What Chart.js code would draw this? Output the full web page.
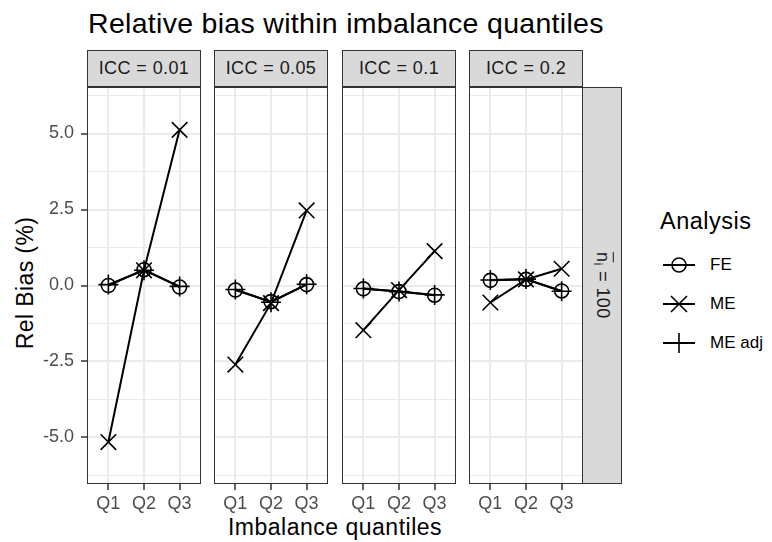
<!DOCTYPE html>
<html>
<head>
<meta charset="utf-8">
<title>Relative bias within imbalance quantiles</title>
<script src="https://cdn.jsdelivr.net/npm/chart.js@4.4.1/dist/chart.umd.min.js"></script>
<style>
  body { margin: 0; background: #fff; font-family: "Liberation Sans", Arial, sans-serif; }
  #plot { position: relative; width: 772px; height: 542px; overflow: hidden; background: #fff; }
  .txt { position: absolute; white-space: nowrap; line-height: 1; }
  #plot canvas { position: absolute; }
  .panel-border { position: absolute; border: 1px solid #333; box-sizing: border-box; pointer-events: none; }
  .strip { position: absolute; background: #d9d9d9; border: 1px solid #333; box-sizing: border-box;
           display: flex; align-items: center; justify-content: center; font-size: 18px; letter-spacing: 0.4px; color: #1a1a1a; }
  .strip-y { writing-mode: vertical-rl; }
  .legend-row { position: absolute; left: 661px; height: 36px; display: flex; align-items: center; }
  .legend-row span { font-size: 17px; color: #000; margin-left: 13px; }
</style>
</head>
<body>
<div id="plot">
  <div class="txt" style="left:88px; top:9px; font-size:28.5px; letter-spacing:0.3px; color:#000;">Relative bias within imbalance quantiles</div>
  <div class="txt" style="left:335px; top:516px; font-size:23px; letter-spacing:0.5px; color:#000; transform:translateX(-50%);">Imbalance quantiles</div>
  <div class="txt" style="left:25px; top:283px; font-size:23px; letter-spacing:0.4px; color:#000; transform:translate(-50%,-50%) rotate(-90deg);">Rel Bias (%)</div>

  <div class="txt" style="left:660px; top:210px; font-size:23.5px; letter-spacing:0.5px; color:#000;">Analysis</div>
  <div class="legend-row" style="top:247px;">
    <svg width="36" height="36"><line x1="2" y1="18" x2="34" y2="18" stroke="#000" stroke-width="2"/><circle cx="18" cy="18" r="7" fill="none" stroke="#000" stroke-width="1.6"/></svg>
    <span>FE</span>
  </div>
  <div class="legend-row" style="top:286px;">
    <svg width="36" height="36"><line x1="2" y1="18" x2="34" y2="18" stroke="#000" stroke-width="2"/><path d="M10 10 L26 26 M10 26 L26 10" stroke="#000" stroke-width="1.6"/></svg>
    <span>ME</span>
  </div>
  <div class="legend-row" style="top:325px;">
    <svg width="36" height="36"><line x1="2" y1="18" x2="34" y2="18" stroke="#000" stroke-width="2"/><path d="M18 8 L18 28 M8 18 L28 18" stroke="#000" stroke-width="1.6"/></svg>
    <span>ME adj</span>
  </div>
</div>

<script>
// quantile groups and facet labels
const quantiles = ['Q1', 'Q2', 'Q3'];
const iccLabels = ['ICC = 0.01', 'ICC = 0.05', 'ICC = 0.1', 'ICC = 0.2'];

// relative bias (%) per ICC facet, Q1..Q3
const feBias = [
  [0.00, 0.52, -0.05],
  [-0.15, -0.53, 0.03],
  [-0.11, -0.20, -0.32],
  [0.17, 0.20, -0.18]
];
const meBias = [
  [-5.15, 0.50, 5.12],
  [-2.60, -0.58, 2.47],
  [-1.47, -0.15, 1.13],
  [-0.56, 0.20, 0.55]
];
const meAdjBias = [
  [0.03, 0.50, -0.03],
  [-0.13, -0.55, 0.04],
  [-0.10, -0.20, -0.31],
  [0.18, 0.21, -0.19]
];

// y axis breaks
const yMajor = [-5, -2.5, 0, 2.5, 5];
const yMinor = [-6.25, -3.75, -1.25, 1.25, 3.75, 6.25];
const yLimits = [-6.53, 6.53];

const PANEL_TOP = 87, PANEL_W = 114, PANEL_H = 397;
const panelLefts = [87, 214, 342, 469];
const Y_AXIS_W = 87, X_AXIS_H = 40;
const FONT = '"Liberation Sans", Arial, sans-serif';

const plot = document.getElementById('plot');
const isMajor = v => yMajor.includes(v);
const toPoints = vals => vals.map((v, k) => ({ x: k + 1, y: v }));

function noPadding(scale) {
  scale.paddingLeft = 0; scale.paddingRight = 0;
  scale.paddingTop = 0; scale.paddingBottom = 0;
}

function addDiv(cls, left, top, width, height, html) {
  const d = document.createElement('div');
  d.className = cls;
  d.style.left = left + 'px';
  d.style.top = top + 'px';
  d.style.width = width + 'px';
  d.style.height = height + 'px';
  if (html) d.innerHTML = html;
  plot.appendChild(d);
  return d;
}

function makePanel(i) {
  const axisW = i === 0 ? Y_AXIS_W : 0;
  const canvas = document.createElement('canvas');
  canvas.width = axisW + PANEL_W;
  canvas.height = PANEL_H + X_AXIS_H;
  canvas.style.left = (panelLefts[i] - axisW) + 'px';
  canvas.style.top = PANEL_TOP + 'px';
  canvas.style.width = canvas.width + 'px';
  canvas.style.height = canvas.height + 'px';
  plot.appendChild(canvas);

  new Chart(canvas, {
    type: 'line',
    data: {
      datasets: [
        { label: 'FE', data: toPoints(feBias[i]), pointStyle: 'circle', pointRadius: 7 },
        { label: 'ME', data: toPoints(meBias[i]), pointStyle: 'crossRot', pointRadius: 11 },
        { label: 'ME adj', data: toPoints(meAdjBias[i]), pointStyle: 'cross', pointRadius: 10 }
      ]
    },
    options: {
      responsive: false,
      animation: false,
      events: [],
      layout: { padding: 0, autoPadding: false },
      plugins: { legend: { display: false }, tooltip: { enabled: false } },
      elements: {
        line: { borderColor: '#000', borderWidth: 2, tension: 0, fill: false },
        point: { borderColor: '#000', backgroundColor: 'rgba(0,0,0,0)', borderWidth: 1.6, hoverRadius: 0 }
      },
      scales: {
        x: {
          type: 'linear',
          min: 0.4, max: 3.6,
          afterBuildTicks: s => { s.ticks = quantiles.map((q, k) => ({ value: k + 1 })); },
          afterFit: s => { s.height = X_AXIS_H; noPadding(s); },
          border: { display: false },
          grid: { color: '#ebebeb', lineWidth: 2, tickColor: '#333', tickLength: 6, tickWidth: 1.5 },
          ticks: {
            autoSkip: false, maxRotation: 0, padding: 3, color: '#4d4d4d',
            font: { family: FONT, size: 18 },
            callback: v => quantiles[v - 1] || ''
          }
        },
        y: {
          type: 'linear',
          min: yLimits[0], max: yLimits[1],
          afterBuildTicks: s => {
            s.ticks = yMinor.concat(yMajor).sort((a, b) => a - b).map(v => ({ value: v }));
          },
          afterFit: s => { s.width = axisW; noPadding(s); },
          border: { display: false },
          grid: {
            color: '#ebebeb',
            lineWidth: ctx => (ctx.tick && isMajor(ctx.tick.value)) ? 2 : 1,
            drawTicks: i === 0,
            tickLength: 6,
            tickWidth: 1.5,
            tickColor: ctx => (ctx.tick && isMajor(ctx.tick.value)) ? '#333' : 'rgba(0,0,0,0)'
          },
          ticks: {
            display: i === 0, autoSkip: false, padding: 7, color: '#4d4d4d',
            font: { family: FONT, size: 18 },
            callback: v => isMajor(v) ? v.toFixed(1) : ''
          }
        }
      }
    }
  });

  addDiv('panel-border', panelLefts[i], PANEL_TOP, PANEL_W, PANEL_H);
  addDiv('strip', panelLefts[i], 50, PANEL_W, 37, iccLabels[i]);
}

iccLabels.forEach((lab, i) => makePanel(i));

// row strip on the right
addDiv('strip strip-y', panelLefts[3] + PANEL_W - 1, PANEL_TOP, 40, PANEL_H,
  '<span><span style="text-decoration:overline">n</span><sub style="font-size:13px">i</sub> = 100</span>');
</script>
</body>
</html>
